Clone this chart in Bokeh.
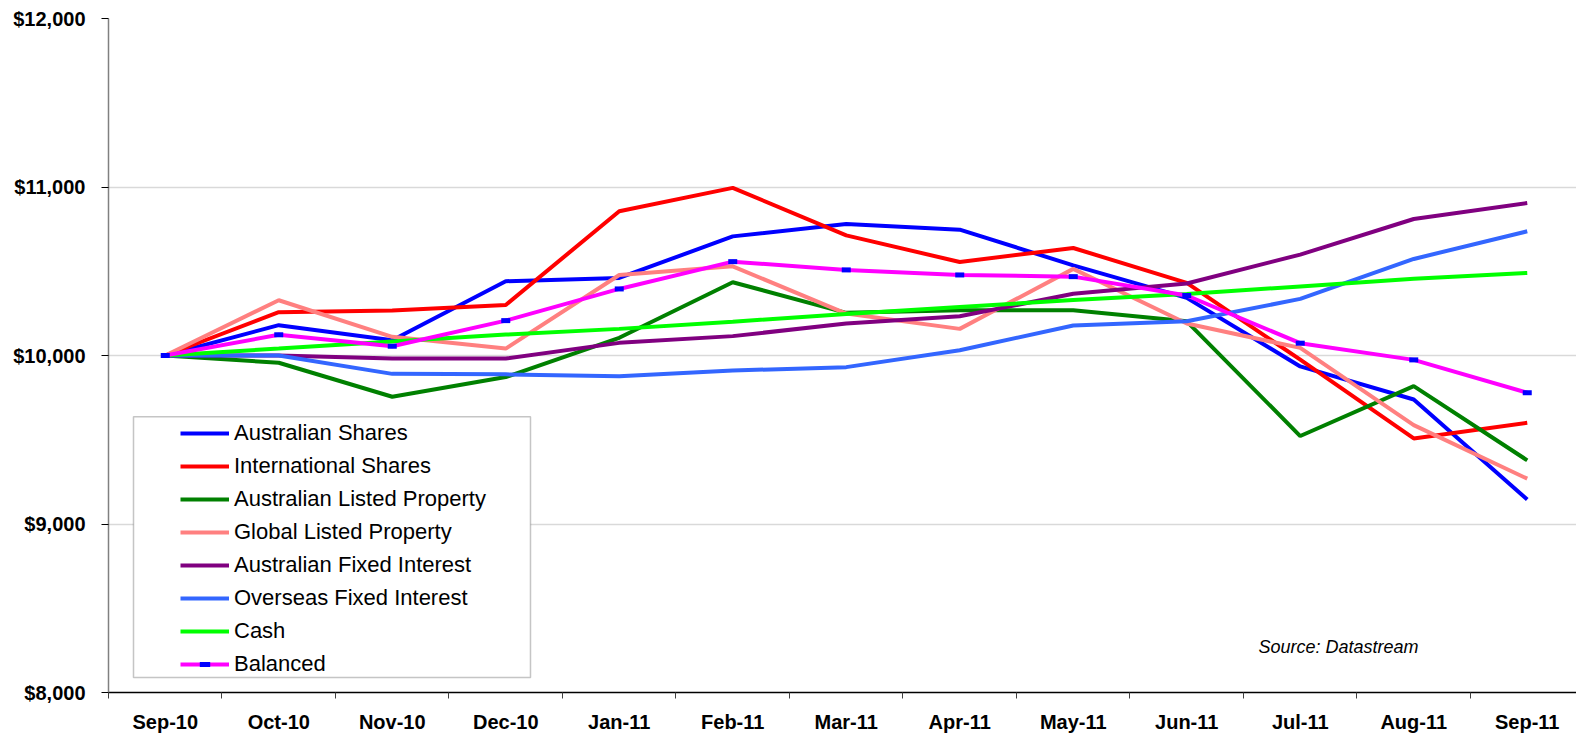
from bokeh.plotting import figure
from bokeh.models import (Range1d, FixedTicker, NumeralTickFormatter, Legend, LegendItem,
                          BoxAnnotation, Label, LinearAxis)
from bokeh.embed import file_html
from bokeh.resources import INLINE

months = ["Sep-10", "Oct-10", "Nov-10", "Dec-10", "Jan-11", "Feb-11", "Mar-11",
          "Apr-11", "May-11", "Jun-11", "Jul-11", "Aug-11", "Sep-11"]

aus_shares = [10000, 10180, 10090, 10441, 10460, 10707, 10781, 10747, 10535, 10342, 9935, 9739, 9146]
intl_shares = [10000, 10257, 10267, 10300, 10856, 10995, 10713, 10555, 10638, 10431, 9975, 9508, 9601]
aus_lp = [10000, 9957, 9755, 9872, 10105, 10435, 10253, 10269, 10269, 10203, 9522, 9818, 9378]
glob_lp = [10000, 10328, 10111, 10041, 10478, 10529, 10249, 10158, 10514, 10190, 10045, 9587, 9269]
aus_fi = [10000, 10000, 9982, 9982, 10075, 10115, 10190, 10233, 10366, 10427, 10599, 10810, 10905]
os_fi = [10000, 10000, 9891, 9888, 9877, 9911, 9931, 10031, 10178, 10203, 10336, 10573, 10737]
cash = [10000, 10041, 10083, 10124, 10158, 10200, 10247, 10288, 10329, 10365, 10410, 10455, 10490]
balanced = [10000, 10123, 10055, 10207, 10395, 10557, 10508, 10478, 10468, 10356, 10073, 9974, 9779]

series = [
    ("Australian Shares", aus_shares, "#0000FF"),
    ("International Shares", intl_shares, "#FF0000"),
    ("Australian Listed Property", aus_lp, "#008000"),
    ("Global Listed Property", glob_lp, "#FF8080"),
    ("Australian Fixed Interest", aus_fi, "#800080"),
    ("Overseas Fixed Interest", os_fi, "#3366FF"),
    ("Cash", cash, "#00FF00"),
    ("Balanced", balanced, "#FF00FF"),
]

y_ticks = [8000, 9000, 10000, 11000, 12000]

FONT = "Liberation Sans"
xs = list(range(len(months)))

p = figure(width=1576, height=735, output_backend="svg", toolbar_location=None,
           x_range=Range1d(-0.5, 12.434), y_range=Range1d(8000, 12000),
           min_border_left=108, min_border_right=0, min_border_top=18, min_border_bottom=42,
           x_axis_location=None, y_axis_location=None)
p.outline_line_color = None
p.background_fill_color = "white"

# axes
xaxis = LinearAxis(ticker=FixedTicker(ticks=xs, minor_ticks=[i - 0.5 for i in xs]))
xaxis.major_label_overrides = {i: m for i, m in enumerate(months)}
xaxis.major_tick_out = 0
xaxis.major_tick_in = 0
xaxis.minor_tick_out = 6
xaxis.minor_tick_in = 0
xaxis.minor_tick_line_color = "#404040"
xaxis.axis_line_color = "black"
xaxis.axis_line_width = 1.5
xaxis.major_label_text_font = FONT
xaxis.major_label_text_font_style = "bold"
xaxis.major_label_text_font_size = "20px"
xaxis.major_label_text_color = "black"
xaxis.major_label_standoff = 12
p.add_layout(xaxis, "below")

yaxis = LinearAxis(ticker=FixedTicker(ticks=y_ticks, minor_ticks=[]))
yaxis.formatter = NumeralTickFormatter(format="$0,0")
yaxis.major_tick_out = 7
yaxis.major_tick_in = 0
yaxis.major_tick_line_color = "black"
yaxis.axis_line_color = "#808080"
yaxis.axis_line_width = 1.5
yaxis.major_label_text_font = FONT
yaxis.major_label_text_font_style = "bold"
yaxis.major_label_text_font_size = "20px"
yaxis.major_label_text_color = "black"
yaxis.major_label_standoff = 16
p.add_layout(yaxis, "left")

p.xgrid.visible = False
p.ygrid.ticker = FixedTicker(ticks=y_ticks)
p.ygrid.grid_line_color = "#d9d9d9"
p.ygrid.grid_line_width = 1.5

items = []
for name, vals, color in series:
    r = p.line(xs, vals, line_color=color, line_width=4)
    rs = [r]
    if name == "Balanced":
        m = p.scatter(xs, vals, marker="dash", size=9, line_width=5, line_color="#0000FF")
        rs.append(m)
    items.append(LegendItem(label=name, renderers=rs))

# legend frame
frame = BoxAnnotation(left=-0.2797, right=3.218, top=9636, bottom=8089,
                      fill_color="white", fill_alpha=1.0, line_color="#404040", line_width=1.5)
p.add_layout(frame)

legend = Legend(items=items, location=(69, 12), orientation="vertical",
                glyph_width=49, glyph_height=26, label_height=26, spacing=7, padding=3,
                label_standoff=5, label_text_font=FONT, label_text_font_size="22px",
                label_text_color="black", border_line_alpha=0, background_fill_alpha=0)
p.add_layout(legend, "center")

src = Label(x=9.632, y=8269, text="Source: Datastream", text_font=FONT,
            text_font_style="italic", text_font_size="18px", text_color="black",
            text_baseline="middle", text_align="left")
p.add_layout(src)

open("out.html", "w").write(file_html(p, INLINE))
